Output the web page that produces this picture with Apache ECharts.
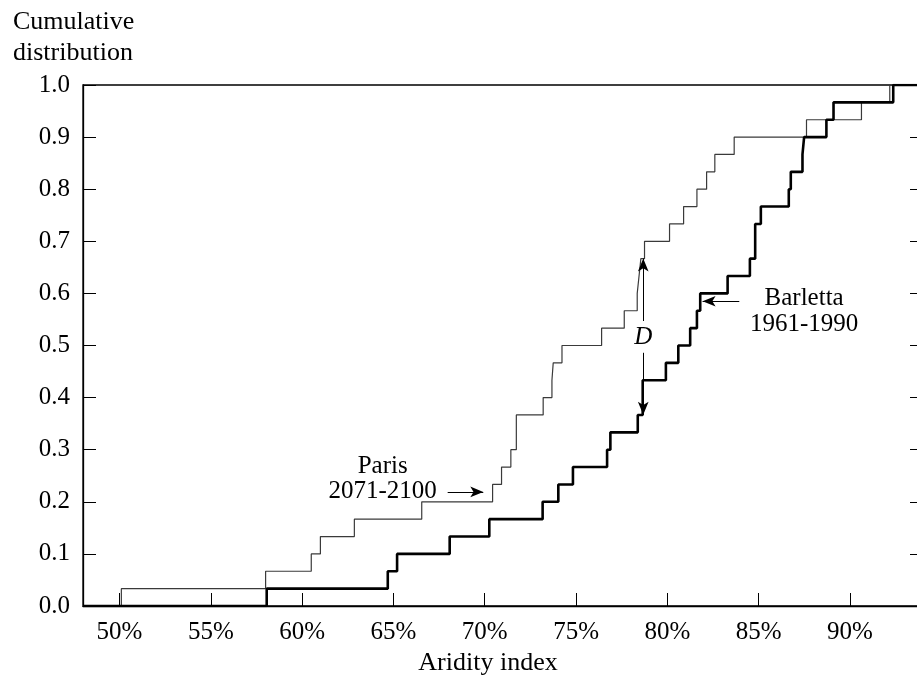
<!DOCTYPE html>
<html>
<head>
<meta charset="utf-8">
<script src="https://cdn.jsdelivr.net/npm/echarts@6/dist/echarts.min.js"></script>
<style>
html,body{margin:0;padding:0;background:#fff;}
#chart{width:917px;height:677px;}
</style>
</head>
<body>
<div id="chart"></div>
<script>
// ---- data ----
const xTicks = [50, 55, 60, 65, 70, 75, 80, 85, 90];
const xTickLabels = ['50%', '55%', '60%', '65%', '70%', '75%', '80%', '85%', '90%'];
const yTicks = [0, 0.1, 0.2, 0.3, 0.4, 0.5, 0.6, 0.7, 0.8, 0.9, 1.0];

// sorted aridity index samples (%), 30 years each
const parisValues = [50.1, 58.0, 60.5, 61.0, 62.86, 66.55, 70.43, 70.92, 71.43, 71.73,
  71.73, 73.2, 73.68, 73.75, 74.23, 76.4, 77.64, 78.35, 78.45, 78.55,
  78.75, 80.12, 80.89, 81.62, 82.15, 82.6, 83.66, 87.62, 90.63, 92.18];
const barlettaValues = [58.06, 64.69, 65.2, 68.08, 70.25, 73.17, 74.03, 74.83, 76.7, 76.88,
  78.38, 78.65, 78.65, 79.92, 80.6, 81.25, 81.62, 81.8, 83.3, 84.52,
  84.81, 84.81, 85.12, 86.65, 86.76, 87.4, 87.49, 88.71, 89.1, 92.37];

const xMin = 48, xMax = 94;

// annotation anchors (data space)
const dLine = { x: 78.68, low: 0.367, gapLow: 0.486, gapHigh: 0.547, high: 0.667, label: 0.516 };
const parisArrow = { from: [67.97, 0.219], to: [69.92, 0.219] };
const barlettaArrow = { from: [83.94, 0.585], to: [81.93, 0.585] };
const parisText = { at: [64.41, 0.2434], text: 'Paris\n2071-2100' };
const barlettaText = { at: [87.49, 0.566], text: 'Barletta\n1961-1990' };

function ecdf(values) {
  const n = values.length;
  const pts = [[xMin, 0]];
  values.forEach((v, i) => pts.push([v, (i + 1) / n]));
  pts.push([xMax, 1]);
  return pts;
}

const FONT = '"Liberation Serif", "Times New Roman", serif';
const FS = 25;

const textPoint = (coord, text, extra) => ({
  coord: coord, name: text,
  label: Object.assign({ show: true, formatter: p => p.name, position: 'inside',
    color: '#000', fontFamily: FONT, fontSize: FS, lineHeight: 26, align: 'center', verticalAlign: 'middle' }, extra || {})
});

const chart = echarts.init(document.getElementById('chart'), null, { renderer: 'canvas' });
chart.setOption({
  animation: false,
  backgroundColor: '#fff',
  title: {
    text: 'Cumulative\ndistribution',
    left: 8, top: 2,
    textStyle: { fontFamily: FONT, fontSize: 26, fontWeight: 'normal', color: '#000', lineHeight: 31 }
  },
  grid: {
    left: 83, top: 85, width: 840, height: 521,
    outerBoundsMode: 'none', containLabel: false,
    show: true, borderColor: '#000', borderWidth: 1.3, backgroundColor: 'transparent'
  },
  xAxis: {
    type: 'value', min: xMin, max: xMax,
    name: 'Aridity index', nameLocation: 'middle', nameGap: 40,
    nameTextStyle: { fontFamily: FONT, fontSize: 26, color: '#000', padding: [0, 30, 0, 0] },
    axisLine: { show: true, lineStyle: { color: '#000', width: 1.3 } },
    axisTick: { show: true, inside: true, length: 13, customValues: xTicks, lineStyle: { color: '#000', width: 1 } },
    axisLabel: {
      show: true, customValues: xTicks, margin: 14,
      formatter: v => xTickLabels[xTicks.indexOf(v)],
      fontFamily: FONT, fontSize: FS, color: '#000'
    },
    splitLine: { show: false }
  },
  yAxis: [{
    type: 'value', min: 0, max: 1, interval: 0.1, position: 'left',
    axisLine: { show: true, lineStyle: { color: '#000', width: 1.3 } },
    axisTick: { show: true, inside: true, length: 13, lineStyle: { color: '#000', width: 1 } },
    axisLabel: { show: true, margin: 13, formatter: v => v.toFixed(1), fontFamily: FONT, fontSize: FS, color: '#000' },
    splitLine: { show: false }
  }, {
    type: 'value', min: 0, max: 1, interval: 0.1, position: 'right',
    axisLine: { show: true, lineStyle: { color: '#000', width: 1.3 } },
    axisTick: { show: true, inside: true, length: 13, lineStyle: { color: '#000', width: 1 } },
    axisLabel: { show: false },
    splitLine: { show: false }
  }],
  series: [{
    name: 'Paris 2071-2100', type: 'line', step: 'end', yAxisIndex: 0,
    data: ecdf(parisValues), showSymbol: false, symbol: 'none',
    lineStyle: { color: '#3a3a3a', width: 1.2 },
    silent: true, z: 3,
    markLine: {
      silent: true, symbol: ['none', 'arrow'], symbolSize: [8, 13], animation: false,
      label: { show: false },
      lineStyle: { type: 'solid', color: '#000', width: 1 },
      data: [
        [{ coord: [dLine.x, dLine.gapHigh] }, { coord: [dLine.x, dLine.high] }],
        [{ coord: [dLine.x, dLine.gapLow] }, { coord: [dLine.x, dLine.low] }],
        [{ coord: parisArrow.from }, { coord: parisArrow.to }],
        [{ coord: barlettaArrow.from }, { coord: barlettaArrow.to }]
      ]
    },
    markPoint: {
      silent: true, symbol: 'rect', symbolSize: 1, animation: false,
      itemStyle: { color: 'rgba(0,0,0,0)' },
      data: [
        textPoint(parisText.at, parisText.text, { lineHeight: 25 }),
        textPoint(barlettaText.at, barlettaText.text),
        textPoint([dLine.x, dLine.label], 'D', { fontStyle: 'italic' })
      ]
    }
  }, {
    name: 'Barletta 1961-1990', type: 'line', step: 'end', yAxisIndex: 0,
    data: ecdf(barlettaValues), showSymbol: false, symbol: 'none',
    lineStyle: { color: '#000', width: 2.6 },
    silent: true, z: 4
  }]
});
</script>
</body>
</html>
